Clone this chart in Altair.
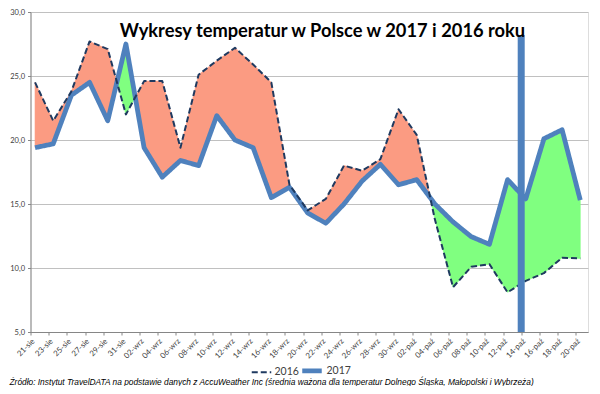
import altair as alt
import pandas as pd

# ---- data ----
labels = ['21-sie', '23-sie', '25-sie', '27-sie', '29-sie', '31-sie',
          '02-wrz', '04-wrz', '06-wrz', '08-wrz', '10-wrz', '12-wrz', '14-wrz',
          '16-wrz', '18-wrz', '20-wrz', '22-wrz', '24-wrz', '26-wrz', '28-wrz',
          '30-wrz', '02-paź', '04-paź', '06-paź', '08-paź', '10-paź', '12-paź',
          '14-paź', '16-paź', '18-paź', '20-paź']
t2016 = [24.5, 21.5, 23.8, 27.7, 27.1, 22.0, 24.6, 24.6, 19.4, 25.1, 26.2,
         27.2, 25.9, 24.5, 16.5, 14.5, 15.4, 18.0, 17.6, 18.5, 22.4, 20.4,
         13.8, 8.5, 10.1, 10.3, 8.1, 9.0, 9.6, 10.8, 10.75]
t2017 = [19.4, 19.7, 23.5, 24.5, 21.5, 27.5, 19.4, 17.1, 18.4, 18.0, 21.9,
         20.0, 19.4, 15.5, 16.3, 14.3, 13.5, 15.0, 16.8, 18.1, 16.5, 16.9,
         15.0, 13.6, 12.45, 11.85, 16.9, 15.4, 20.1, 20.8, 15.3]
marker_label = '14-paź'
marker_top = 28.2
title_text = 'Wykresy temperatur w Polsce w 2017 i 2016 roku'
source_text = ('Źródło: Instytut TravelDATA na podstawie  danych z AccuWeather Inc '
               '(średnia ważona dla temperatur Dolnego Śląska, Małopolski i Wybrzeża)')

SALMON = '#FB9B82'
GREEN = '#80FF80'
BLUE = '#4F81BD'
NAVY = '#1F3A60'

# date axis with day bins: label k sits on day 2k, each point at the centre of its day
xs = [2 * i + 0.5 for i in range(len(labels))]
marker_x = 2 * labels.index(marker_label)

lines = pd.DataFrame({
    'x': xs * 2,
    'v': t2016 + t2017,
    'series': ['2016'] * len(xs) + ['2017'] * len(xs),
})

# fill between the two series, split at crossings
rows = []
g = 0
def sgn(d):
    return 'warm' if d >= 0 else 'cold'
cur = sgn(t2016[0] - t2017[0])
rows.append(dict(g=g, x=xs[0], a=t2016[0], b=t2017[0], s=cur))
for i in range(len(xs) - 1):
    d0 = t2016[i] - t2017[i]
    d1 = t2016[i + 1] - t2017[i + 1]
    if d0 * d1 < 0:
        t = d0 / (d0 - d1)
        xc = xs[i] + t * (xs[i + 1] - xs[i])
        yc = t2016[i] + t * (t2016[i + 1] - t2016[i])
        rows.append(dict(g=g, x=xc, a=yc, b=yc, s=cur))
        g += 1
        cur = sgn(d1)
        rows.append(dict(g=g, x=xc, a=yc, b=yc, s=cur))
    rows.append(dict(g=g, x=xs[i + 1], a=t2016[i + 1], b=t2017[i + 1], s=cur))
fill = pd.DataFrame(rows)

xscale = alt.Scale(domain=[0, 61.35], nice=False, zero=False)
yscale = alt.Scale(domain=[5, 30], nice=False, zero=False)

label_arr = '[' + ','.join("'%s'" % l for l in labels) + ']'

xaxis = alt.Axis(values=[2 * k for k in range(len(labels))],
                 labelExpr=label_arr + '[datum.value/2]',
                 labelAngle=-45, labelFontSize=7.8, labelColor='#404040',
                 labelFlush=False, labelOverlap=False, labelPadding=2,
                 tickSize=3, tickColor='#868686', domainColor='#868686',
                 grid=False, title=None)
yaxis = alt.Axis(values=[5, 10, 15, 20, 25, 30],
                 labelExpr="replace(format(datum.value, '.1f'), '.', ',')",
                 labelFontSize=7.5, labelColor='#404040', labelPadding=3,
                 tickSize=3, tickColor='#868686', domainColor='#868686',
                 grid=True, gridColor='#c0c0c0', gridWidth=1, title=None)

X = lambda f: alt.X(f, scale=xscale, axis=xaxis)
Y = lambda f: alt.Y(f, scale=yscale, axis=yaxis)

def area_layer(kind, colour):
    return alt.Chart(fill).transform_filter(alt.datum.s == kind).mark_area(
        interpolate='linear', color=colour, fill=colour, stroke=colour, strokeWidth=0.6,
        opacity=1).encode(x=X('x:Q'), y=Y('a:Q'), y2='b:Q', detail='g:N')

warm = area_layer('warm', SALMON)
cold = area_layer('cold', GREEN)

legend = alt.Legend(title=None, orient='none', direction='horizontal',
                    legendX=220, legendY=346, symbolType='stroke', symbolSize=380,
                    labelFontSize=10.5, labelColor='#404040', labelFont='Lato',
                    columnPadding=-8, labelOffset=2)

base = alt.Chart(lines).mark_line(strokeJoin='round').encode(
    x=X('x:Q'),
    y=Y('v:Q'),
    color=alt.Color('series:N', scale=alt.Scale(domain=['2016', '2017'], range=[NAVY, BLUE]), legend=legend),
    strokeDash=alt.StrokeDash('series:N', scale=alt.Scale(domain=['2016', '2017'], range=[[6, 3], [1, 0]]), legend=legend),
    strokeWidth=alt.StrokeWidth('series:N', scale=alt.Scale(domain=['2016', '2017'], range=[2, 4.8]), legend=legend),
)
line17 = base.transform_filter(alt.datum.series == '2017')
line16 = base.transform_filter(alt.datum.series == '2016')

marker = alt.Chart(pd.DataFrame({'x': [marker_x], 'top': [marker_top], 'bot': [5]})).mark_rule(
    color=BLUE, strokeWidth=7, strokeCap='butt').encode(
    x=X('x:Q'), y=Y('top:Q'), y2='bot:Q')

title = alt.Chart(pd.DataFrame({'t': [title_text]})).mark_text(
    font='Lato', fontWeight='bold', fontSize=18.3, align='center', baseline='alphabetic', color='#000000'
).encode(x=alt.value(292), y=alt.value(25), text='t:N')

source = alt.Chart(pd.DataFrame({'t': [source_text]})).mark_text(
    font='Liberation Sans', fontStyle='italic', fontSize=8.35, align='left', baseline='alphabetic', color='#000000'
).encode(x=alt.value(-21), y=alt.value(373), text='t:N')

chart = alt.layer(warm, cold, line17, line16, marker, title, source).properties(
    width=557.5, height=320,
    padding={'left': 22.5, 'top': 4, 'right': 4, 'bottom': 54},
    autosize=alt.AutoSizeParams(type='none'),
).configure_view(stroke=None).configure(font='Lato')

chart.save('out.html', embed_options={'renderer': 'svg', 'actions': False})
